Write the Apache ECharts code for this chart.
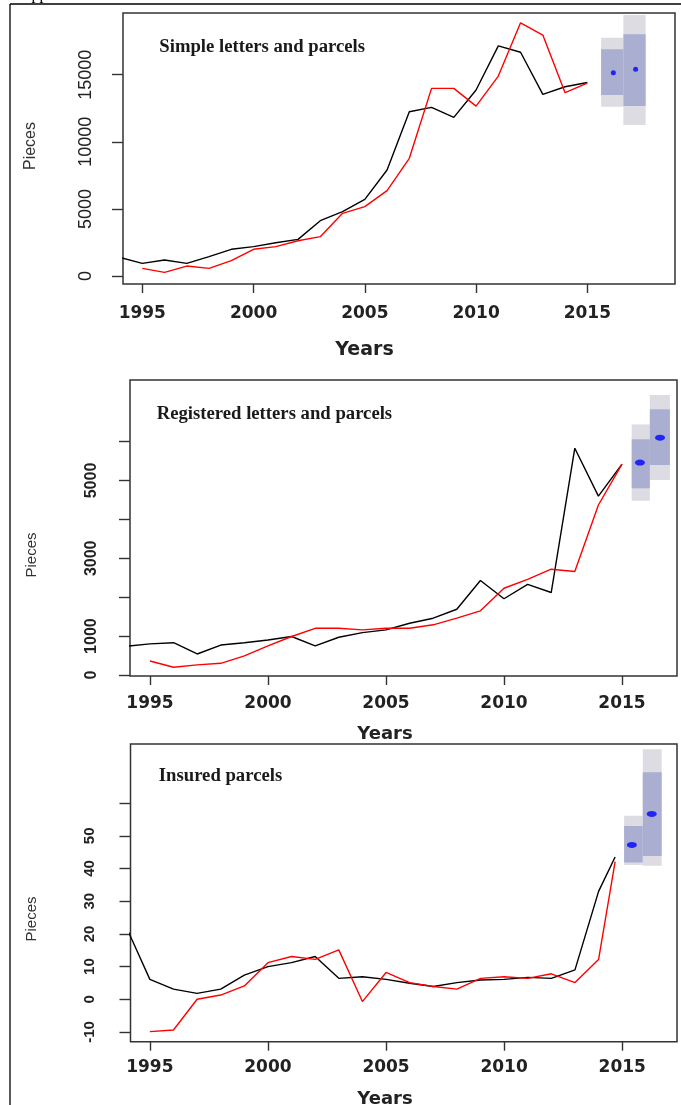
<!DOCTYPE html>
<html><head><meta charset="utf-8">
<script src="https://cdn.jsdelivr.net/npm/echarts@6/dist/echarts.min.js"></script>
<style>html,body{margin:0;padding:0;background:#fff}#c{width:681px;height:1105px}</style>
</head><body><div id="c"></div>
<script>
// ---------- Panel 1: Simple letters and parcels ----------
const p1BlackYears = [1994,1995,1996,1997,1998,1999,2000,2001,2002,2003,2004,2005,2006,2007,2008,2009,2010,2011,2012,2013,2014,2015];
const p1Black = [1380,940,1190,940,1440,1990,2190,2480,2730,4120,4790,5710,7900,12240,12570,11820,13860,17150,16670,13540,14100,14420];
const p1RedYears = [1995,1996,1997,1998,1999,2000,2001,2002,2003,2004,2005,2006,2007,2008,2009,2010,2011,2012,2013,2014,2015];
const p1Red = [570,270,740,570,1140,1990,2190,2630,2930,4670,5170,6360,8770,13980,13980,12660,14900,18870,17950,13660,14380];
const p1FcFrom = [2015.62, 2016.62];
const p1FcTo = [2016.62, 2017.62];
const p1OuterLo = [12620, 11250];
const p1OuterHi = [17760, 19450];
const p1InnerLo = [13490, 12670];
const p1InnerHi = [16890, 18010];
const p1PointYears = [2016.17, 2017.17];
const p1Point = [15150, 15400];
const p1XTicks = [1995,2000,2005,2010,2015];
const p1YTicks = [0,5000,10000,15000];
const p1YLabels = [0,5000,10000,15000];

// ---------- Panel 2: Registered letters and parcels ----------
const p2BlackYears = [1994,1995,1996,1997,1998,1999,2000,2001,2002,2003,2004,2005,2006,2007,2008,2009,2010,2011,2012,2013,2014,2015];
const p2Black = [740,800,830,540,770,830,900,990,750,970,1090,1160,1330,1460,1690,2430,1960,2330,2120,5830,4600,5420];
const p2RedYears = [1995,1996,1997,1998,1999,2000,2001,2002,2003,2004,2005,2006,2007,2008,2009,2010,2011,2012,2013,2014,2015];
const p2Red = [360,200,260,300,490,750,990,1200,1200,1160,1200,1200,1290,1460,1650,2230,2460,2720,2660,4370,5420];
const p2FcFrom = [2015.41, 2016.18];
const p2FcTo = [2016.18, 2017.03];
const p2OuterLo = [4480, 5010];
const p2OuterHi = [6440, 7200];
const p2InnerLo = [4800, 5400];
const p2InnerHi = [6060, 6830];
const p2PointYears = [2015.76, 2016.61];
const p2Point = [5460, 6100];
const p2XTicks = [1995,2000,2005,2010,2015];
const p2YTicks = [0,1000,2000,3000,4000,5000,6000];
const p2YLabels = [0,1000,3000,5000];

// ---------- Panel 3: Insured parcels ----------
const p3BlackYears = [1994,1995,1996,1997,1998,1999,2000,2001,2002,2003,2004,2005,2006,2007,2008,2009,2010,2011,2012,2013,2014,2014.7];
const p3Black = [22.1,6.1,3.1,1.8,3.1,7.4,10,11.2,13.1,6.4,6.9,6.1,4.9,3.9,5.1,5.9,6.1,6.7,6.4,9,33,43.5];
const p3RedYears = [1995,1996,1997,1998,1999,2000,2001,2002,2003,2004,2005,2006,2007,2008,2009,2010,2011,2012,2013,2014,2014.7];
const p3Red = [-9.9,-9.4,0,1.3,4.1,11.2,13.1,12.2,15.1,-0.7,8.2,5.1,3.9,3.1,6.4,6.9,6.4,7.8,5.1,12.2,42.1];
const p3FcFrom = [2015.08, 2015.87];
const p3FcTo = [2015.87, 2016.67];
const p3OuterLo = [41.1, 40.8];
const p3OuterHi = [56.1, 76.5];
const p3InnerLo = [41.8, 43.8];
const p3InnerHi = [53.0, 69.4];
const p3PointYears = [2015.41, 2016.25];
const p3Point = [47.2, 56.7];
const p3XTicks = [1995,2000,2005,2010,2015];
const p3YTicks = [-10,0,10,20,30,40,50,60];
const p3YLabels = [-10,0,10,20,30,40,50];

// ---------- layout ----------
const panels = [
  {grid:{left:123, top:13, width:552, height:271}, x:[1994.133, 2018.94], y:[-596, 19598],
   xt:p1XTicks, yt:p1YTicks, yl:p1YLabels,
   xFont:{fontSize:17, fontWeight:'bold', margin:21}, yFont:{fontSize:18, fontWeight:'normal', margin:28, family:'Liberation Sans'},
   black:[p1BlackYears,p1Black], red:[p1RedYears,p1Red],
   fc:[p1FcFrom,p1FcTo,p1OuterLo,p1OuterHi,p1InnerLo,p1InnerHi], pts:[p1PointYears,p1Point], dot:[5,5]},
  {grid:{left:130, top:380, width:547, height:296}, x:[1994.153, 2017.33], y:[-26, 7584],
   xt:p2XTicks, yt:p2YTicks, yl:p2YLabels,
   xFont:{fontSize:17, fontWeight:'bold', margin:19}, yFont:{fontSize:16, fontWeight:'bold', margin:30, family:'Liberation Sans'},
   black:[p2BlackYears,p2Black], red:[p2RedYears,p2Red],
   fc:[p2FcFrom,p2FcTo,p2OuterLo,p2OuterHi,p2InnerLo,p2InnerHi], pts:[p2PointYears,p2Point], dot:[10,6]},
  {grid:{left:130.5, top:744, width:546.5, height:297.7}, x:[1994.18, 2017.32], y:[-12.97, 78.07],
   xt:p3XTicks, yt:p3YTicks, yl:p3YLabels,
   xFont:{fontSize:17, fontWeight:'bold', margin:17}, yFont:{fontSize:15, fontWeight:'bold', margin:33, family:'Liberation Sans'},
   black:[p3BlackYears,p3Black], red:[p3RedYears,p3Red],
   fc:[p3FcFrom,p3FcTo,p3OuterLo,p3OuterHi,p3InnerLo,p3InnerHi], pts:[p3PointYears,p3Point], dot:[10,6]}
];

const grids = [], xAxes = [], yAxes = [], series = [];
function rectItem(color){
  return function(params, api){
    const a = api.coord([api.value(0), api.value(3)]);
    const b = api.coord([api.value(1), api.value(2)]);
    return {type:'rect', shape:{x:a[0], y:a[1], width:b[0]-a[0], height:b[1]-a[1]}, style:{fill:color}};
  };
}
panels.forEach((p, i) => {
  grids.push(Object.assign({show:true, borderColor:'#333', borderWidth:1.5, backgroundColor:'transparent', containLabel:false, outerBoundsMode:'none'}, p.grid));
  xAxes.push({type:'value', gridIndex:i, min:p.x[0], max:p.x[1], position:'bottom',
    axisLine:{show:false, onZero:false}, splitLine:{show:false},
    axisTick:{show:true, customValues:p.xt, length:9, lineStyle:{color:'#333', width:1.4}},
    axisLabel:{customValues:p.xt, margin:p.xFont.margin, fontSize:p.xFont.fontSize, fontWeight:p.xFont.fontWeight, fontFamily:'DejaVu Sans', color:'#222', formatter:v=>String(v)}});
  yAxes.push({type:'value', gridIndex:i, min:p.y[0], max:p.y[1], position:'left',
    axisLine:{show:false, onZero:false}, splitLine:{show:false},
    axisTick:{show:true, customValues:p.yt, length:11, lineStyle:{color:'#333', width:1.4}},
    axisLabel:{customValues:p.yl, rotate:90, margin:p.yFont.margin, fontSize:p.yFont.fontSize, fontWeight:p.yFont.fontWeight, fontFamily:p.yFont.family, color:'#222', formatter:v=>String(v)}});
  const fc = p.fc;
  const outer = fc[0].map((x0,k)=>[x0, fc[1][k], fc[2][k], fc[3][k]]);
  const inner = fc[0].map((x0,k)=>[x0, fc[1][k], fc[4][k], fc[5][k]]);
  series.push({type:'custom', xAxisIndex:i, yAxisIndex:i, renderItem:rectItem('#dcdce2'), data:outer, encode:{x:[0,1], y:[2,3]}, clip:true, silent:true, z:1});
  series.push({type:'custom', xAxisIndex:i, yAxisIndex:i, renderItem:rectItem('#aaafd2'), data:inner, encode:{x:[0,1], y:[2,3]}, clip:true, silent:true, z:2});
  series.push({type:'line', xAxisIndex:i, yAxisIndex:i, data:p.black[0].map((x,k)=>[x, p.black[1][k]]), symbol:'none', lineStyle:{color:'#000', width:1.4}, itemStyle:{color:'#000'}, clip:true, z:3});
  series.push({type:'line', xAxisIndex:i, yAxisIndex:i, data:p.red[0].map((x,k)=>[x, p.red[1][k]]), symbol:'none', lineStyle:{color:'#ff0000', width:1.4}, itemStyle:{color:'#ff0000'}, clip:true, z:4});
  series.push({type:'scatter', xAxisIndex:i, yAxisIndex:i, data:p.pts[0].map((x,k)=>[x, p.pts[1][k]]), symbol:'circle', symbolSize:p.dot, itemStyle:{color:'#0000ff'}, z:5});
});

function txt(x, y, text, font, opts){
  return Object.assign({type:'text', x:x, y:y, style:{text:text, font:font, fill:'#1a1a1a', align:'left', verticalAlign:'middle'}}, opts||{});
}
const serif = 'bold 18.7px "Liberation Serif"';
const graphics = [
  {type:'line', shape:{x1:10, y1:4, x2:681, y2:4}, style:{stroke:'#000', lineWidth:1.3}},
  {type:'line', shape:{x1:10, y1:4, x2:10, y2:1105}, style:{stroke:'#000', lineWidth:1.3}},
  {type:'text', x:20, y:-5, style:{text:'Appendix', font:'16px "Liberation Serif"', fill:'#000', align:'left', verticalAlign:'middle'}},
  txt(159.3, 47, 'Simple letters and parcels', serif),
  txt(156.7, 413.7, 'Registered letters and parcels', serif),
  txt(158.8, 776, 'Insured parcels', serif),
  {type:'text', x:30.5, y:146, rotation:Math.PI/2, style:{text:'Pieces', font:'16px "Liberation Sans"', fill:'#333', align:'center', verticalAlign:'middle'}},
  {type:'text', x:31.5, y:555, rotation:Math.PI/2, style:{text:'Pieces', font:'15px "Liberation Sans"', fill:'#333', align:'center', verticalAlign:'middle'}},
  {type:'text', x:31.5, y:919, rotation:Math.PI/2, style:{text:'Pieces', font:'15px "Liberation Sans"', fill:'#333', align:'center', verticalAlign:'middle'}},
  {type:'text', x:364.5, y:350, style:{text:'Years', font:'bold 19px "DejaVu Sans"', fill:'#222', align:'center', verticalAlign:'middle'}},
  {type:'text', x:385, y:734.3, style:{text:'Years', font:'bold 18px "DejaVu Sans"', fill:'#222', align:'center', verticalAlign:'middle'}},
  {type:'text', x:385, y:1099, style:{text:'Years', font:'bold 18px "DejaVu Sans"', fill:'#222', align:'center', verticalAlign:'middle'}}
];

const chart = echarts.init(document.getElementById('c'), null, {renderer:'canvas'});
chart.setOption({
  animation:false,
  backgroundColor:'#ffffff',
  grid:grids, xAxis:xAxes, yAxis:yAxes, series:series,
  graphic:graphics
});
</script>
</body></html>
